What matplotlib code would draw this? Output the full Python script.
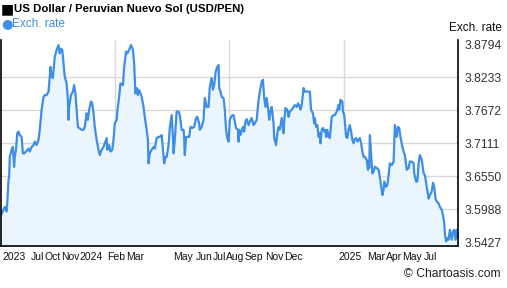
import numpy as np
import matplotlib
matplotlib.use('Agg')
import matplotlib.pyplot as plt

plt.rcParams['font.family'] = ['Liberation Sans', 'DejaVu Sans']

# Days since start of the 2-year window and USD/PEN rate
days = [0, 4, 6, 9, 10, 12, 13, 14, 17, 19, 20, 21, 22, 24, 26, 28, 30, 33, 35, 37,
        40, 44, 46, 49, 52, 54, 57, 60, 62, 65, 68, 70, 73, 76, 78, 79, 81, 83, 85, 86,
        89, 92, 94, 96, 98, 100, 102, 105, 107, 108, 109, 112, 115, 117, 119, 121, 123, 125, 129, 132,
        134, 137, 139, 141, 144, 146, 148, 150, 153, 156, 158, 161, 164, 166, 169, 170, 173, 175, 178, 180,
        182, 185, 186, 189, 191, 195, 197, 200, 202, 205, 208, 211, 213, 215, 217, 219, 220, 222, 225, 228,
        230, 233, 235, 236, 238, 241, 244, 246, 249, 252, 254, 257, 259, 261, 263, 265, 268, 270, 273, 275,
        276, 278, 281, 284, 286, 289, 292, 293, 294, 296, 298, 301, 303, 306, 309, 312, 314, 317, 318, 321,
        324, 326, 329, 332, 334, 337, 339, 341, 343, 345, 348, 349, 351, 353, 356, 358, 360, 362, 364, 366,
        369, 372, 374, 376, 379, 380, 381, 383, 387, 389, 391, 393, 396, 398, 401, 404, 406, 409, 412, 414,
        417, 419, 421, 423, 425, 428, 429, 431, 433, 436, 437, 440, 442, 444, 446, 449, 452, 453, 455, 458,
        460, 462, 465, 468, 470, 473, 475, 477, 479, 481, 484, 486, 489, 492, 494, 496, 499, 501, 502, 504,
        506, 508, 510, 511, 513, 515, 517, 519, 520, 522, 524, 526, 529, 532, 534, 537, 540, 541, 543, 546,
        547, 549, 550, 552, 554, 556, 558, 560, 562, 564, 565, 568, 570, 572, 574, 576, 578, 580, 582, 585,
        587, 588, 589, 590, 592, 594, 596, 598, 601, 604, 605, 607, 610, 612, 613, 616, 618, 620, 622, 625,
        628, 630, 633, 635, 637, 639, 642, 644, 646, 649, 652, 654, 657, 660, 661, 664, 666, 668, 670, 673,
        676, 678, 681, 684, 686, 689, 691, 693, 695, 697, 700, 702, 705, 707, 709, 710, 712, 714, 716, 718,
        721, 723, 725, 727, 729, 730, 731]
rates = [3.589, 3.598, 3.603, 3.595, 3.609, 3.649, 3.654, 3.688, 3.700, 3.705, 3.688, 3.671, 3.688, 3.700, 3.728, 3.731, 3.725, 3.722, 3.694, 3.694,
         3.697, 3.702, 3.697, 3.705, 3.708, 3.714, 3.708, 3.717, 3.734, 3.768, 3.790, 3.793, 3.793, 3.799, 3.824, 3.841, 3.824, 3.822, 3.847, 3.858,
         3.870, 3.878, 3.864, 3.872, 3.870, 3.847, 3.824, 3.813, 3.785, 3.751, 3.773, 3.793, 3.799, 3.810, 3.796, 3.768, 3.739, 3.737, 3.734, 3.734,
         3.739, 3.762, 3.751, 3.768, 3.782, 3.779, 3.762, 3.739, 3.717, 3.700, 3.691, 3.700, 3.705, 3.711, 3.720, 3.700, 3.708, 3.697, 3.700, 3.717,
         3.745, 3.751, 3.765, 3.790, 3.813, 3.810, 3.841, 3.867, 3.864, 3.870, 3.878, 3.870, 3.847, 3.796, 3.805, 3.793, 3.802, 3.799, 3.790, 3.773,
         3.756, 3.734, 3.717, 3.677, 3.694, 3.700, 3.705, 3.702, 3.720, 3.722, 3.722, 3.725, 3.702, 3.677, 3.688, 3.688, 3.708, 3.737, 3.759, 3.722,
         3.694, 3.717, 3.765, 3.765, 3.759, 3.734, 3.734, 3.722, 3.691, 3.722, 3.722, 3.722, 3.739, 3.737, 3.739, 3.754, 3.756, 3.745, 3.734, 3.739,
         3.751, 3.788, 3.773, 3.773, 3.807, 3.822, 3.802, 3.810, 3.830, 3.839, 3.844, 3.805, 3.799, 3.790, 3.788, 3.768, 3.734, 3.720, 3.714, 3.751,
         3.758, 3.759, 3.748, 3.737, 3.734, 3.714, 3.734, 3.725, 3.739, 3.731, 3.748, 3.752, 3.742, 3.748, 3.754, 3.742, 3.745, 3.751, 3.785, 3.799,
         3.816, 3.819, 3.788, 3.773, 3.788, 3.762, 3.751, 3.765, 3.773, 3.745, 3.720, 3.708, 3.728, 3.739, 3.734, 3.754, 3.728, 3.748, 3.771, 3.768,
         3.756, 3.765, 3.768, 3.773, 3.776, 3.773, 3.779, 3.776, 3.768, 3.776, 3.805, 3.799, 3.799, 3.799, 3.799, 3.768, 3.762, 3.745, 3.754, 3.739,
         3.742, 3.722, 3.728, 3.711, 3.734, 3.737, 3.731, 3.734, 3.722, 3.734, 3.722, 3.720, 3.756, 3.759, 3.759, 3.765, 3.776, 3.768, 3.785, 3.782,
         3.765, 3.759, 3.748, 3.722, 3.720, 3.734, 3.742, 3.731, 3.717, 3.711, 3.717, 3.720, 3.714, 3.717, 3.720, 3.711, 3.697, 3.688, 3.688, 3.683,
         3.666, 3.680, 3.669, 3.725, 3.691, 3.660, 3.663, 3.671, 3.669, 3.666, 3.660, 3.646, 3.623, 3.632, 3.646, 3.637, 3.640, 3.657, 3.677, 3.674,
         3.680, 3.742, 3.722, 3.739, 3.737, 3.722, 3.705, 3.697, 3.691, 3.666, 3.669, 3.680, 3.680, 3.677, 3.660, 3.646, 3.646, 3.677, 3.691, 3.683,
         3.660, 3.657, 3.637, 3.617, 3.623, 3.629, 3.644, 3.637, 3.617, 3.612, 3.609, 3.603, 3.598, 3.589, 3.575, 3.558, 3.544, 3.550, 3.547, 3.564,
         3.547, 3.561, 3.564, 3.547, 3.564, 3.550, 3.561]

y_ticks = [3.5427, 3.5988, 3.6550, 3.7111, 3.7672, 3.8233, 3.8794]
x_tick_days = [1.6, 48, 69.6, 95.7, 125.6, 169.6, 200, 275.2, 311.2, 338.4, 360, 390.4,
               422.4, 452.8, 539.2, 586.4, 616, 642.4, 676.8]
x_tick_labels = ['2023', 'Jul', 'Oct', 'Nov', '2024', 'Feb', 'Mar', 'May', 'Jun', 'Jul', 'Aug',
                 'Sep', 'Nov', 'Dec', '2025', 'Mar', 'Apr', 'May', 'Jul']
year_marks = [182, 365, 549]

line_color = '#3d8ee4'

fig = plt.figure(figsize=(5.07, 2.88), dpi=100)
ax = fig.add_axes([1 / 507, 42 / 288, 457 / 507, 206 / 288])

ax.fill_between(days, rates, 3.5, color='#eaf5fe', lw=0)
ax.plot(days, rates, color=line_color, lw=1.6, solid_joinstyle='round')

ax.set_xlim(0, 731)
ax.set_ylim(3.5364, 3.8867)

for v in y_ticks[1:-1]:
    ax.axhline(v, color='#d9d9d9', lw=1, zorder=0)
for d in year_marks:
    ax.axvline(d, color='#d9d9d9', lw=1, zorder=0)

ax.set_yticks(y_ticks)
ax.set_yticklabels(['{:.4f}'.format(v) for v in y_ticks])
ax.yaxis.tick_right()
ax.tick_params(axis='y', length=0, pad=5, labelsize=8.7, labelcolor='#333333')

ax.set_xticks(x_tick_days)
ax.set_xticklabels(x_tick_labels, ha='left')
ax.tick_params(axis='x', length=0, pad=4, labelsize=7.5, labelcolor='#111111')

ax.spines['top'].set_visible(False)
for s in ['left', 'right', 'bottom']:
    ax.spines[s].set_color('black')
    ax.spines[s].set_linewidth(1.2)

fig.text(1 / 507, 1 - 9 / 288, '\u25A0', fontsize=10, va='center', ha='left', family='DejaVu Sans')
fig.text(14 / 507, 1 - 9 / 288, 'US Dollar / Peruvian Nuevo Sol (USD/PEN)',
         fontsize=8.2, fontweight='bold', va='center', ha='left')
fig.text(1 / 507, 1 - 24 / 288, '\u25CF', fontsize=9.5, color=line_color, va='center', ha='left',
         family='DejaVu Sans')
fig.text(12 / 507, 1 - 24 / 288, 'Exch. rate', fontsize=8.5, color=line_color, va='center', ha='left')
fig.text(502 / 507, 1 - 28 / 288, 'Exch. rate', fontsize=8.5, color='#111111', va='center', ha='right')
fig.text(500 / 507, 1 - 274 / 288, '\u00A9 Chartoasis.com', fontsize=8.7, color='#222222',
         va='center', ha='right')

plt.savefig('out.png', dpi=100)
